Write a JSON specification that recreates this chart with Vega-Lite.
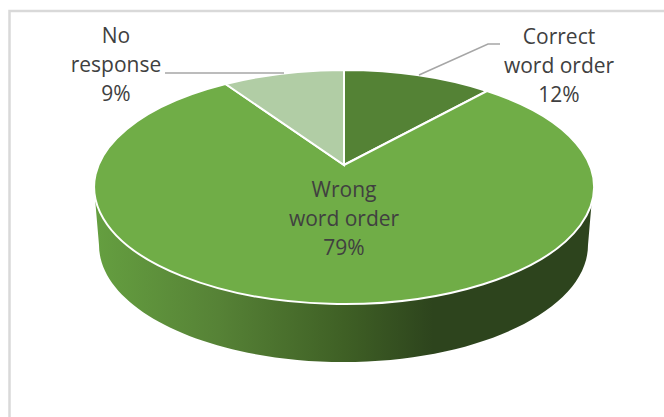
{"$schema":"https://vega.github.io/schema/vega-lite/v6.json","width":664,"height":417,"autosize":"none","padding":0,"background":"white","config":{"view":{"stroke":null}},
"data":{"values":[{"category":"Correct word order","share":12,"label":"Correct\nword order\n12%"},{"category":"Wrong word order","share":79,"label":"Wrong\nword order\n79%"},{"category":"No response","share":9,"label":"No\nresponse\n9%"}]},
"resolve":{"scale":{"shape":"independent"}},
"layer":[
{"data":{"values":[{"part":"frame"}]},"mark":{"type":"point","filled":false,"opacity":1,"size":4,"stroke":"#d9d9d9","strokeWidth":2.5,"shape":"M-322.5,208.5 V-197.5 H332"},"encoding":{}},
{"data":{"values":[{"part":"side"}]},"mark":{"type":"point","filled":true,"opacity":1,"size":4,"strokeWidth":0,"shape":"M-238,-22 L-233,36.5 A244.5,117 0 0 0 256,36.5 L261,-22 Z","fill":{"gradient":"linear","x1":0,"x2":1,"y1":0,"y2":0,"stops":[{"offset":0,"color":"#659f40"},{"offset":0.25,"color":"#568236"},{"offset":0.5,"color":"#3f6025"},{"offset":0.68,"color":"#2d441d"},{"offset":1,"color":"#2d441d"}]}},"encoding":{}},
{"mark":{"type":"point","filled":true,"opacity":1,"size":4,"stroke":"white","strokeWidth":2},"encoding":{"shape":{"field":"category","type":"nominal","legend":null,"scale":{"domain":["Correct word order","Wrong word order","No response"],"range":["M12,-43.5 L12,-138.5 A250,117 0 0 1 155,-117.5 Z","M12,-43.5 L155,-117.5 A250,117 0 1 1 -106.5,-124.5 Z","M12,-43.5 L-106.5,-124.5 A250,117 0 0 1 12,-138.5 Z"]}},"color":{"field":"category","type":"nominal","legend":null,"scale":{"domain":["Correct word order","Wrong word order","No response"],"range":["#548235","#70ad47","#b1cda5"]}}}},
{"transform":[{"filter":"datum.category !== 'Wrong word order'"}],"mark":{"type":"point","filled":false,"opacity":1,"size":4,"stroke":"#a6a6a6","strokeWidth":1.5},"encoding":{"shape":{"field":"category","type":"nominal","legend":null,"scale":{"domain":["Correct word order","No response"],"range":["M87,-133.5 L156,-164.5 H168","M-167,-135.5 H-48"]}}}},
{"transform":[{"filter":"datum.category === 'Correct word order'"}],"mark":{"type":"text","font":"Open Sans","fontSize":21,"color":"#404040","align":"center","baseline":"middle","lineBreak":"\n","lineHeight":29,"dx":227,"dy":-171},"encoding":{"text":{"field":"label"}}},
{"transform":[{"filter":"datum.category === 'Wrong word order'"}],"mark":{"type":"text","font":"Open Sans","fontSize":21,"color":"#404040","align":"center","baseline":"middle","lineBreak":"\n","lineHeight":29,"dx":12,"dy":-18},"encoding":{"text":{"field":"label"}}},
{"transform":[{"filter":"datum.category === 'No response'"}],"mark":{"type":"text","font":"Open Sans","fontSize":21,"color":"#404040","align":"center","baseline":"middle","lineBreak":"\n","lineHeight":29,"dx":-216,"dy":-172},"encoding":{"text":{"field":"label"}}}
]}
